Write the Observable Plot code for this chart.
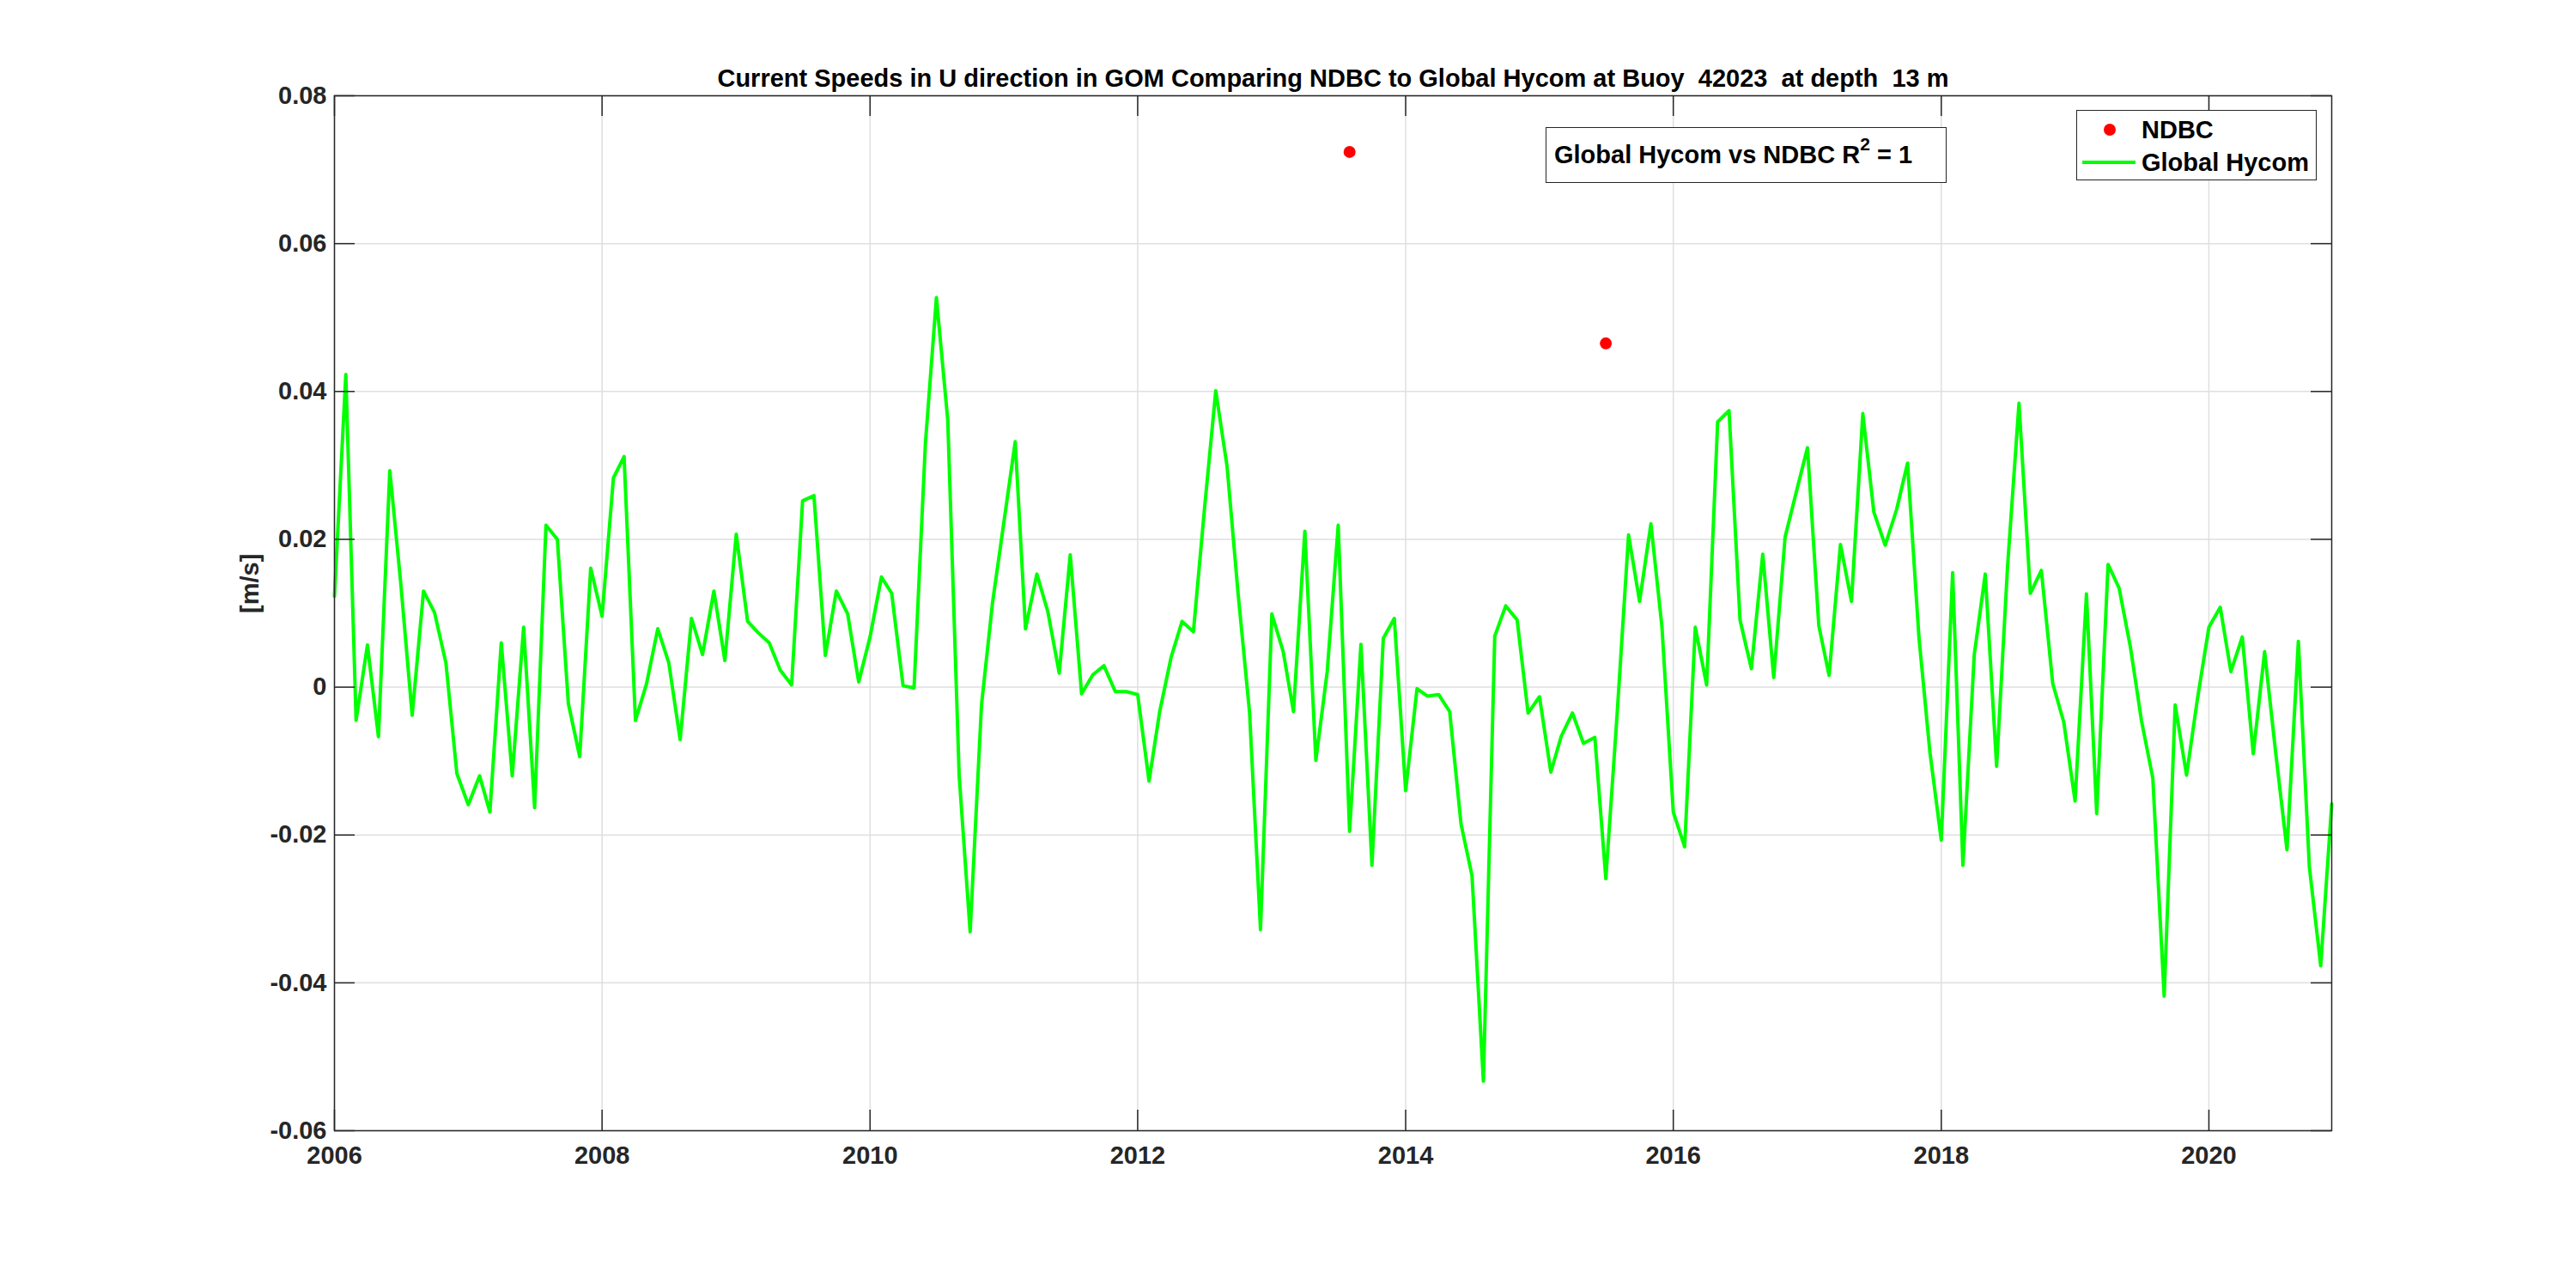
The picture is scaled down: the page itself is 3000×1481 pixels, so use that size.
<!DOCTYPE html>
<html>
<head>
<meta charset="utf-8">
<script src="https://cdn.jsdelivr.net/npm/d3@7"></script>
<script src="https://cdn.jsdelivr.net/npm/@observablehq/plot@0.6"></script>
<style>
  html, body { margin: 0; padding: 0; background: #ffffff; }
  #wrap { position: relative; width: 3000px; height: 1481px; font-family: "Liberation Sans", Arial, Helvetica, sans-serif; font-weight: bold; }
  #wrap svg text { white-space: pre; }
  .box { position: absolute; background: #ffffff; border: 1.5px solid #262626; box-sizing: border-box; color: #000; }
  .annot { display: flex; align-items: center; padding-left: 9px; font-size: 29px; white-space: pre; }
  .annot sup { font-size: 21px; line-height: 0; vertical-align: baseline; position: relative; top: -13px; }
  .legrow { position: absolute; left: 0; height: 36px; width: 100%; }
  .legtxt { position: absolute; left: 75px; top: 50%; transform: translateY(-50%); font-size: 29px; white-space: pre; }
  .legdot { position: absolute; left: 31px; top: 50%; width: 14px; height: 14px; margin-top: -7px; border-radius: 50%; background: #ff0000; }
  .legline { position: absolute; left: 6px; top: 50%; width: 62px; height: 4px; margin-top: -2px; background: #00ff00; }
</style>
</head>
<body>
<div id="wrap"></div>
<script>
// ---------------- data ----------------
const startYear = 2006;   // first monthly value: Jan 2006
const hycomU = [
  0.0123, 0.0423, -0.0045, 0.0057, -0.0067, 0.0293, 0.0140, -0.0038, 0.0130, 0.0101, 0.0033, -0.0117,
  -0.0159, -0.0120, -0.0169, 0.0060, -0.0120, 0.0081, -0.0163, 0.0219, 0.0200, -0.0022, -0.0094, 0.0161,
  0.0096, 0.0283, 0.0312, -0.0045, 0.0004, 0.0079, 0.0033, -0.0071, 0.0093, 0.0044, 0.0130, 0.0036,
  0.0207, 0.0089, 0.0074, 0.0060, 0.0023, 0.0003, 0.0252, 0.0259, 0.0043, 0.0130, 0.0099, 0.0007,
  0.0068, 0.0149, 0.0127, 0.0002, -0.0001, 0.0330, 0.0527, 0.0361, -0.0119, -0.0331, -0.0024, 0.0114,
  0.0223, 0.0332, 0.0079, 0.0153, 0.0102, 0.0019, 0.0179, -0.0009, 0.0017, 0.0029, -0.0006, -0.0006,
  -0.0010, -0.0127, -0.0033, 0.0040, 0.0089, 0.0075, 0.0240, 0.0401, 0.0298, 0.0126, -0.0033, -0.0328,
  0.0099, 0.0048, -0.0033, 0.0211, -0.0099, 0.0021, 0.0219, -0.0195, 0.0058, -0.0241, 0.0066, 0.0093,
  -0.0140, -0.0002, -0.0012, -0.0010, -0.0033, -0.0185, -0.0255, -0.0533, 0.0069, 0.0110, 0.0091, -0.0035,
  -0.0013, -0.0115, -0.0067, -0.0035, -0.0076, -0.0068, -0.0259, -0.0035, 0.0206, 0.0116, 0.0221, 0.0082,
  -0.0169, -0.0216, 0.0081, 0.0003, 0.0359, 0.0374, 0.0091, 0.0025, 0.0180, 0.0013, 0.0203, 0.0263,
  0.0324, 0.0083, 0.0016, 0.0193, 0.0116, 0.0370, 0.0237, 0.0192, 0.0240, 0.0303, 0.0068, -0.0088,
  -0.0207, 0.0155, -0.0241, 0.0044, 0.0153, -0.0107, 0.0165, 0.0384, 0.0127, 0.0158, 0.0005, -0.0047,
  -0.0154, 0.0126, -0.0171, 0.0166, 0.0134, 0.0054, -0.0045, -0.0123, -0.0418, -0.0024, -0.0119, -0.0015,
  0.0081, 0.0108, 0.0021, 0.0068, -0.0090, 0.0048, -0.0088, -0.0220, 0.0062, -0.0243, -0.0377, -0.0158
];
const ndbcDates = ["2013-08-01", "2015-07-01"];
const ndbcU = [0.0724, 0.0465];
const yTicks = [-0.06, -0.04, -0.02, 0, 0.02, 0.04, 0.06, 0.08];
const xTickYears = [2006, 2008, 2010, 2012, 2014, 2016, 2018, 2020];
const titleText = "Current Speeds in U direction in GOM Comparing NDBC to Global Hycom at Buoy  42023  at depth  13 m";
const yLabel = "[m/s]";
const seriesNames = ["NDBC", "Global Hycom"];
const annotPrefix = "Global Hycom vs NDBC R";
const annotSup = "2";
const annotSuffix = " = 1";

// ---------------- tables ----------------
const hycom = hycomU.map((v, i) => ({date: new Date(Date.UTC(startYear, i, 1)), u: v}));
const ndbc = ndbcDates.map((d, i) => ({date: new Date(d + "T00:00:00Z"), u: ndbcU[i]}));
const xTicks = xTickYears.map(y => new Date(Date.UTC(y, 0, 1)));

// ---------------- layout ----------------
const W = 3000, H = 1481;
const mL = 389, mR = 285, mT = 111, mB = 165;
const fw = W - mL - mR, fh = H - mT - mB;
const tickLen = 24;
const axisColor = "#262626";
const gridColor = "#dfdfdf";

const chart = Plot.plot({
  width: W, height: H,
  marginLeft: mL, marginRight: mR, marginTop: mT, marginBottom: mB,
  style: {fontFamily: '"Liberation Sans", Arial, Helvetica, sans-serif', fontWeight: "bold", fontSize: "29px", color: axisColor, background: "#ffffff", overflow: "visible"},
  x: {type: "utc", domain: [hycom[0].date, hycom[hycom.length - 1].date]},
  y: {domain: [-0.06, 0.08]},
  marks: [
    Plot.gridX(xTicks, {stroke: gridColor, strokeOpacity: 1, strokeWidth: 1.5}),
    Plot.gridY(yTicks, {stroke: gridColor, strokeOpacity: 1, strokeWidth: 1.5}),
    Plot.line(hycom, {x: "date", y: "u", stroke: "#00ff00", strokeWidth: 4, strokeLinejoin: "round", strokeLinecap: "round"}),
    Plot.dot(ndbc, {x: "date", y: "u", r: 7, fill: "#ff0000", stroke: null}),
    Plot.frame({stroke: axisColor, strokeWidth: 1.5}),
    Plot.tickY(yTicks, {y: d => d, insetRight: fw - tickLen, stroke: axisColor, strokeWidth: 1.5}),
    Plot.tickY(yTicks, {y: d => d, insetLeft: fw - tickLen, stroke: axisColor, strokeWidth: 1.5}),
    Plot.tickX(xTicks, {x: d => d, insetTop: fh - tickLen, stroke: axisColor, strokeWidth: 1.5}),
    Plot.tickX(xTicks, {x: d => d, insetBottom: fh - tickLen, stroke: axisColor, strokeWidth: 1.5}),
    Plot.axisY(yTicks, {tickSize: 0, tickPadding: 9, tickFormat: d => d === 0 ? "0" : d.toFixed(2), label: null, fontSize: 29, fill: axisColor}),
    Plot.axisX(xTicks, {tickSize: 0, tickPadding: 18, tickFormat: d => String(d.getUTCFullYear()), label: null, fontSize: 29, fill: axisColor}),
    Plot.text([yLabel], {text: d => d, frameAnchor: "left", dx: -98, rotate: -90, fontSize: 29, fill: axisColor}),
    Plot.text([titleText], {text: d => d, frameAnchor: "top", dy: -11, lineAnchor: "bottom", fontSize: 29, fill: "#000000"})
  ]
});

const wrap = document.getElementById("wrap");
wrap.appendChild(chart);

// annotation box (R^2)
const annot = document.createElement("div");
annot.className = "box annot";
Object.assign(annot.style, {left: "1800px", top: "148px", width: "467px", height: "65px"});
annot.appendChild(document.createTextNode(annotPrefix));
const sup = document.createElement("sup");
sup.textContent = annotSup;
annot.appendChild(sup);
annot.appendChild(document.createTextNode(annotSuffix));
wrap.appendChild(annot);

// legend
const legend = document.createElement("div");
legend.className = "box";
Object.assign(legend.style, {left: "2418px", top: "128px", width: "280px", height: "82px", borderWidth: "1.5px"});
const rowTops = [4, 42];
seriesNames.forEach((name, i) => {
  const row = document.createElement("div");
  row.className = "legrow";
  row.style.top = rowTops[i] + "px";
  const sw = document.createElement("div");
  sw.className = i === 0 ? "legdot" : "legline";
  row.appendChild(sw);
  const t = document.createElement("div");
  t.className = "legtxt";
  t.textContent = name;
  row.appendChild(t);
  legend.appendChild(row);
});
wrap.appendChild(legend);
</script>
</body>
</html>
